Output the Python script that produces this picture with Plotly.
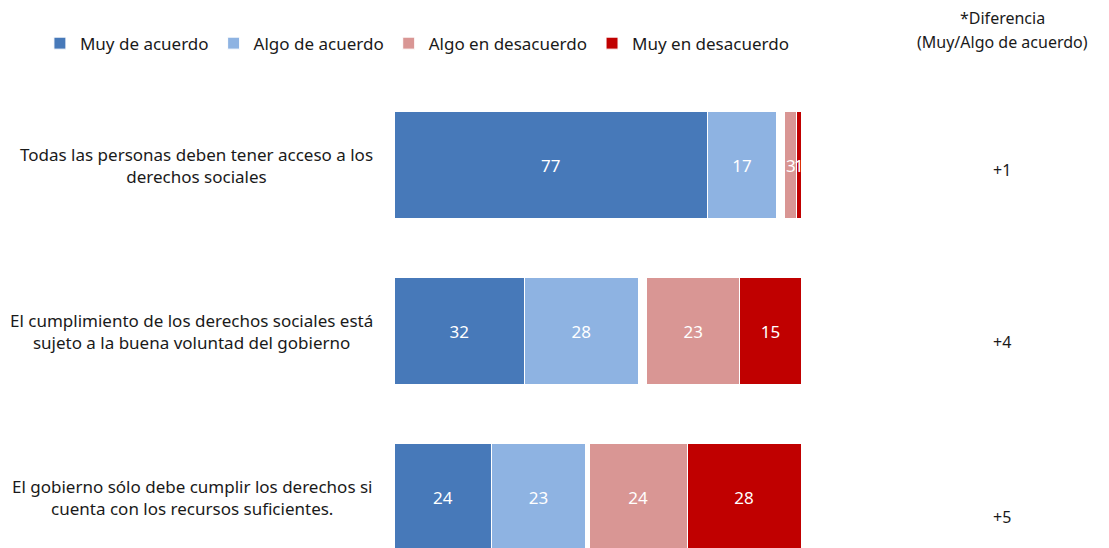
import plotly.graph_objects as go

statements = [
    "Todas las personas deben tener acceso a los<br>derechos sociales",
    "El cumplimiento de los derechos sociales está<br>sujeto a la buena voluntad del gobierno",
    "El gobierno sólo debe cumplir los derechos si<br>cuenta con los recursos suficientes.",
]
muy_acuerdo = [77, 32, 24]
algo_acuerdo = [17, 28, 23]
ns_nc = [2, 2, 1]
algo_desacuerdo = [3, 23, 24]
muy_desacuerdo = [1, 15, 28]
diferencia = ["+1", "+4", "+5"]

font = "Noto Sans"
ink = "#1a1a1a"
cats = list(range(len(statements)))

fig = go.Figure()

def add(vals, name, color, legend=True, labels=True):
    fig.add_trace(go.Bar(
        y=cats, x=vals, name=name, orientation="h",
        marker=dict(color=color, line=dict(color="white", width=1)),
        text=vals if labels else None,
        textposition="inside", insidetextanchor="middle",
        textfont=dict(color="white", size=17, family=font),
        showlegend=legend, hoverinfo="skip" if not legend else None,
    ))

add(muy_acuerdo, "Muy de acuerdo", "#4779b9")
add(algo_acuerdo, "Algo de acuerdo", "#8eb3e2")
add(ns_nc, "Ns/Nc", "white", legend=False, labels=False)
add(algo_desacuerdo, "Algo en desacuerdo", "#d99694")
add(muy_desacuerdo, "Muy en desacuerdo", "#c00000")

annotations = []
for i, s in enumerate(statements):
    annotations.append(dict(
        x=0, y=i, xref="paper", yref="y", text=s, showarrow=False,
        xanchor="right", align="center", xshift=-19,
        font=dict(size=17, color=ink, family=font),
    ))

# diferencia column sits a little lower for each row in the original
shifts = [-5, -11, -20]
for i, d in enumerate(diferencia):
    annotations.append(dict(
        x=1.494, y=i, xref="paper", yref="y", text=d, showarrow=False,
        xanchor="center", yshift=shifts[i],
        font=dict(size=16, color=ink, family=font),
    ))

annotations.append(dict(x=1.494, y=1.135, xref="paper", yref="paper", text="*Diferencia",
                        showarrow=False, xanchor="center", yanchor="middle",
                        font=dict(size=16, color=ink, family=font)))
annotations.append(dict(x=1.494, y=1.084, xref="paper", yref="paper", text="(Muy/Algo de acuerdo)",
                        showarrow=False, xanchor="center", yanchor="middle",
                        font=dict(size=16, color=ink, family=font)))

fig.update_layout(
    width=1109, height=548,
    barmode="stack", bargap=0.35,
    plot_bgcolor="white", paper_bgcolor="white",
    margin=dict(l=386, r=316, t=74, b=0),
    xaxis=dict(range=[0, 100], visible=False),
    yaxis=dict(range=[2.355, -0.5], visible=False),
    showlegend=True,
    legend=dict(orientation="h", x=-0.87, xanchor="left", y=1.081, yanchor="middle",
                font=dict(size=17, color=ink, family=font), traceorder="normal"),
    uniformtext=dict(minsize=17, mode="show"),
    annotations=annotations,
)

fig.write_html("out.html")
